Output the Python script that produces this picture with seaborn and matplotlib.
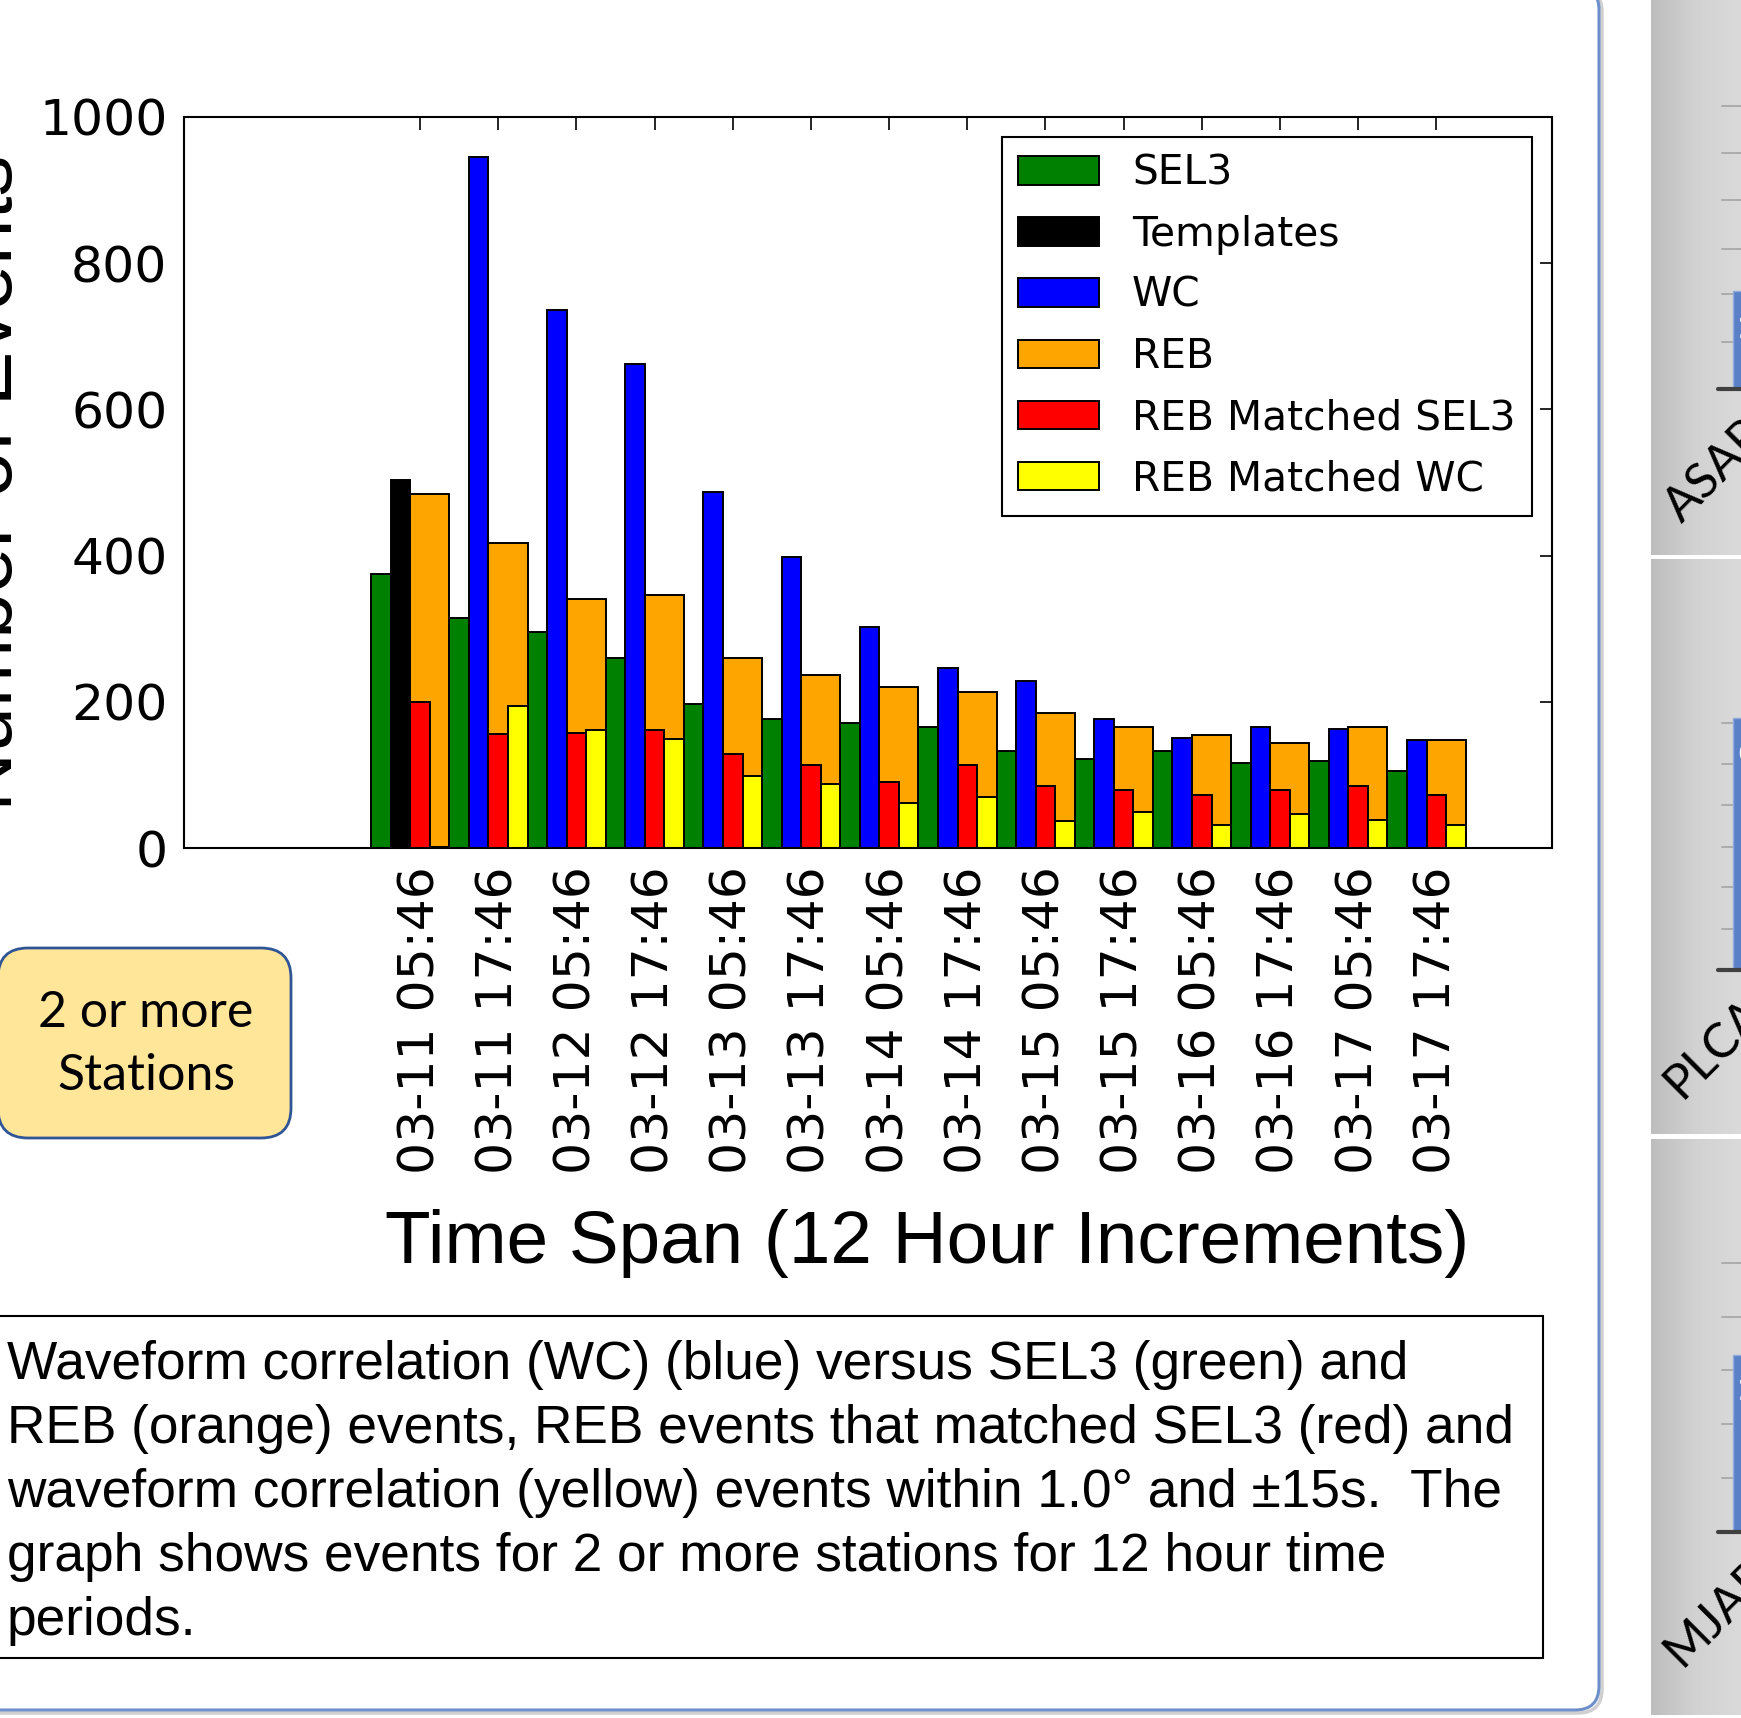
import numpy as np
import pandas as pd
import matplotlib
matplotlib.use("Agg")
import matplotlib.pyplot as plt
import seaborn as sns
from matplotlib.patches import Patch, FancyBboxPatch, Rectangle
from matplotlib.colors import LinearSegmentedColormap

# ---- data ----
periods = [
    "03-11 05:46", "03-11 17:46", "03-12 05:46", "03-12 17:46",
    "03-13 05:46", "03-13 17:46", "03-14 05:46", "03-14 17:46",
    "03-15 05:46", "03-15 17:46", "03-16 05:46", "03-16 17:46",
    "03-17 05:46", "03-17 17:46",
]
sel3 = [375, 314, 295, 260, 197, 176, 171, 165, 133, 122, 133, 116, 119, 106]
templates = [504]
wc = [0, 945, 736, 662, 487, 398, 303, 246, 229, 176, 150, 165, 163, 148]
reb = [484, 417, 340, 346, 260, 237, 220, 214, 185, 165, 154, 143, 165, 148]
reb_sel3 = [200, 156, 158, 162, 128, 114, 90, 114, 85, 80, 73, 80, 85, 73]
reb_wc = [2, 194, 161, 149, 98, 87, 61, 70, 37, 49, 32, 46, 38, 32]

yticks = [0, 200, 400, 600, 800, 1000]

caption_lines = [
    "Waveform correlation (WC) (blue) versus SEL3 (green) and",
    "REB (orange) events, REB events that matched SEL3 (red) and",
    "waveform correlation (yellow) events within 1.0\u00b0 and \u00b115s.  The",
    "graph shows events for 2 or more stations for 12 hour time",
    "periods.",
]

W, H = 1741, 1718

sns.set_style("white")
plt.rcParams["font.family"] = ["DejaVu Sans"]
plt.rcParams["text.color"] = "black"
plt.rcParams["xtick.color"] = "black"
plt.rcParams["ytick.color"] = "black"
plt.rcParams["axes.labelcolor"] = "black"

fig = plt.figure(figsize=(W / 100, H / 100), dpi=100)
fig.patch.set_facecolor("white")

# background overlay in pixel coordinates
bg = fig.add_axes([0, 0, 1, 1], zorder=0)
bg.set_xlim(0, W)
bg.set_ylim(H, 0)
bg.axis("off")

# ---- main bar chart ----
ax = fig.add_axes(
    [184 / W, 1 - 848 / H, (1552 - 184) / W, (848 - 117) / H], zorder=1
)
pos = np.arange(len(periods))
df = pd.DataFrame(
    {"pos": pos, "SEL3": sel3, "WC": wc, "REB": reb,
     "REB Matched SEL3": reb_sel3, "REB Matched WC": reb_wc}
)

series = [
    # (label, x positions, values, width, colour)
    ("SEL3", df["pos"] - 0.5, df["SEL3"], 0.25, "green"),
    ("Templates", df["pos"][:1] - 0.25, templates, 0.25, "black"),
    ("WC", df["pos"] - 0.25, df["WC"], 0.25, "blue"),
    ("REB", df["pos"] + 0.125, df["REB"], 0.5, "orange"),
    ("REB Matched SEL3", df["pos"], df["REB Matched SEL3"], 0.25, "red"),
    ("REB Matched WC", df["pos"] + 0.25, df["REB Matched WC"], 0.25, "yellow"),
]
for label, xs, vals, width, color in series:
    sns.barplot(
        x=list(xs), y=list(vals), native_scale=True, width=width, orient="x",
        color=color, saturation=1, edgecolor="black", linewidth=1.4,
        errorbar=None, ax=ax,
    )

ax.set_xlim(-3.02, 14.48)
ax.set_ylim(0, 1000)
ax.set_xticks(pos)
ax.set_xticklabels(periods, rotation=90)
ax.set_yticks(yticks)
ax.set_yticklabels([str(v) for v in yticks])
ax.set_xlabel("")
ax.set_ylabel("")
ax.tick_params(axis="both", direction="in", top=True, right=True,
               length=9, width=1.2, color="black", labelcolor="black",
               labelsize=36.3)
ax.tick_params(axis="x", pad=13)
ax.tick_params(axis="y", pad=12)
for sp in ax.spines.values():
    sp.set_visible(True)
    sp.set_color("black")
    sp.set_linewidth(1.5)

handles = [Patch(facecolor=c, edgecolor="black", linewidth=1.4, label=l)
           for l, _, _, _, c in series]
leg = ax.legend(
    handles=handles, loc="upper right", fontsize=29.3, frameon=True,
    fancybox=False, framealpha=1, edgecolor="black", borderpad=0.4,
    labelspacing=0.52, handlelength=2.0, handleheight=0.7,
    handletextpad=0.8, borderaxespad=0.5,
)
leg.get_frame().set_linewidth(1.5)
for t in leg.get_texts():
    t.set_color("black")

# axis titles (placed as on the poster)
bg.text(927, 1244, "Time Span (12 Hour Increments)", ha="center",
        va="center", fontsize=53.8, family="Liberation Sans", color="black")
bg.text(12, 483, "Number of Events", rotation=90, rotation_mode="anchor",
        ha="center", va="baseline", fontsize=59, family="Liberation Sans",
        color="black")

# ---- callout box ----
bg.add_patch(FancyBboxPatch((-2, 948), 293, 190,
                            boxstyle="round,pad=0,rounding_size=30",
                            fc="#FFE699", ec="#2F5597", lw=2))
bg.text(146, 1013, "2 or more", ha="center", va="center",
        fontsize=36, family="Lato", color="black")
bg.text(146, 1076, "Stations", ha="center", va="center",
        fontsize=36, family="Lato", color="black")

# ---- caption box ----
bg.add_patch(Rectangle((-5, 1316), 1548, 342, fc="white", ec="black", lw=1.5))
for i, line in enumerate(caption_lines):
    bg.text(7, 1379 + i * 63.9, line, ha="left", va="baseline",
            fontsize=38.3, family="Liberation Sans", color="black")

# ---- poster panel border ----
bg.add_patch(FancyBboxPatch((-40, -12), 1642, 1725,
                            boxstyle="round,pad=0,rounding_size=24",
                            fc="none", ec="#d0d0d0", lw=2.5))
bg.add_patch(FancyBboxPatch((-40, -14), 1639, 1724,
                            boxstyle="round,pad=0,rounding_size=24",
                            fc="none", ec="#6f8fcb", lw=2.2))

# ---- neighbouring grey panels on the right ----
cmap = LinearSegmentedColormap.from_list("g", ["#bdbdbd", "#d2d2d2", "#dadada"])
grad = np.linspace(0, 1, 256)[None, :]
panels = [
    (0, 555, [106, 153, 200, 249, 294, 342], 389, 291, "ASAR", 524, "1", 330),
    (559, 1134, [723, 764, 805, 847, 887, 929], 970, 718, "PLCA", 1100, "6", 755),
    (1139, 1715, [1263, 1317, 1370, 1424, 1478], 1532, 1355, "MJAR", 1668, "1", 1392),
]
for top, bot, grid, base, bar_top, name, name_y, num, num_y in panels:
    bg.imshow(grad, extent=(1651, W, bot, top), cmap=cmap, aspect="auto",
              zorder=1)
    for gy in grid:
        bg.plot([1722, W], [gy, gy], color="#a8a8a8", lw=1.3, zorder=2)
    bg.add_patch(Rectangle((1733, bar_top), 20, base - bar_top,
                           fc="#5a80c8", ec="#8faadc", lw=1, zorder=3))
    bg.plot([1718, W], [base, base], color="#404040", lw=3, zorder=4)
    bg.text(1737, num_y, num, color="white", fontsize=20, weight="bold",
            ha="left", va="center", zorder=5)
    bg.text(1682, name_y, name, rotation=45, rotation_mode="anchor",
            ha="left", va="baseline", fontsize=35, family="Lato",
            color="black", zorder=5)
bg.set_xlim(0, W)
bg.set_ylim(H, 0)

fig.savefig("out.png", dpi=100)
